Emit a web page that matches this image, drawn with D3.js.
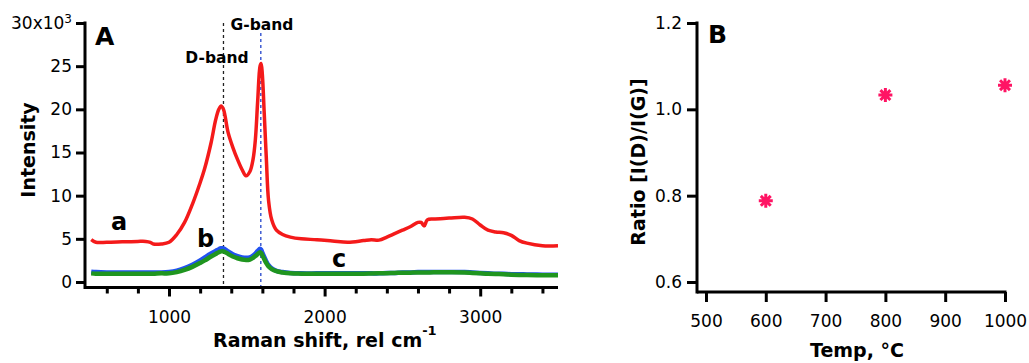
<!DOCTYPE html>
<html>
<head>
<meta charset="utf-8">
<script src="https://cdn.jsdelivr.net/npm/d3@7"></script>
<style>
  body { margin: 0; background: #fff; }
  svg { display: block; font-family: "DejaVu Sans", sans-serif; }
  .axis text { font-size: 17px; fill: #000; font-family: "DejaVu Sans", sans-serif; }
  .axis line { stroke: #000; stroke-width: 3; }
  .axis path { display: none; }
  .title { font-weight: bold; }
</style>
</head>
<body>
<svg id="chart" width="1029" height="363"></svg>
<script>
// Raman spectra (intensity in units of 10^3)
var ramanShift = [500, 530, 600, 700, 800, 850, 880, 900, 950, 1000,
  1050, 1100, 1150, 1200, 1230, 1270, 1300, 1320, 1335, 1350,
  1380, 1410, 1440, 1470, 1495, 1520, 1540, 1555, 1570, 1585,
  1592, 1600, 1612, 1625, 1640, 1660, 1690, 1730, 1780, 1850,
  1950, 2050, 2150, 2250, 2300, 2350, 2400, 2450, 2500, 2550,
  2600, 2620, 2640, 2660, 2700, 2800, 2900, 2950, 3000, 3050,
  3100, 3150, 3200, 3250, 3300, 3400, 3500];
var intensityA = [4.9, 4.6, 4.6, 4.65, 4.7, 4.7, 4.6, 4.4, 4.4, 4.6,
  5.5, 6.9, 9.0, 11.5, 13.2, 16.1, 18.8, 20.0, 20.4, 20.0,
  17.3, 15.6, 14.2, 13.0, 12.3, 12.8, 14.2, 16.5, 21.0, 25.0,
  25.3, 24.0, 19.5, 14.5, 9.4, 7.2, 6.0, 5.5, 5.2, 5.0,
  4.9, 4.75, 4.6, 4.8, 4.9, 4.85, 5.2, 5.6, 6.0, 6.4,
  6.9, 6.9, 6.5, 7.2, 7.3, 7.4, 7.5, 7.3, 6.6, 6.0,
  5.8, 5.7, 5.4, 4.8, 4.5, 4.2, 4.2];
var intensityB = [1.2, 1.15, 1.1, 1.1, 1.1, 1.1, 1.1, 1.1, 1.1, 1.15,
  1.3, 1.6, 2.0, 2.5, 2.85, 3.3, 3.6, 3.8, 3.9, 3.9,
  3.55, 3.2, 3.0, 2.85, 2.8, 2.85, 3.05, 3.3, 3.6, 3.85,
  3.75, 3.4, 2.9, 2.4, 1.95, 1.6, 1.3, 1.15, 1.05, 1.0,
  1.0, 1.0, 1.0, 1.0, 1.0, 1.0, 1.05, 1.05, 1.1, 1.1,
  1.15, 1.15, 1.15, 1.15, 1.15, 1.15, 1.15, 1.1, 1.05, 1.0,
  0.95, 0.95, 0.9, 0.9, 0.88, 0.85, 0.85];
var intensityC = [1.0, 0.95, 0.95, 0.95, 0.95, 0.95, 0.95, 0.95, 1.0, 1.0,
  1.15, 1.4, 1.75, 2.2, 2.5, 2.95, 3.25, 3.45, 3.55, 3.55,
  3.25, 2.95, 2.75, 2.6, 2.55, 2.6, 2.8, 3.0, 3.25, 3.45,
  3.35, 3.1, 2.65, 2.2, 1.8, 1.5, 1.25, 1.1, 1.0, 0.97,
  0.95, 0.95, 0.95, 0.97, 0.98, 1.0, 1.02, 1.05, 1.07, 1.08,
  1.1, 1.1, 1.1, 1.1, 1.12, 1.12, 1.1, 1.05, 1.0, 0.95,
  0.92, 0.9, 0.85, 0.82, 0.8, 0.78, 0.78];
var bandNames = ["D-band", "G-band"];
var bandPositions = [1350, 1590];
var intensityTicks = [0, 5, 10, 15, 20, 25, 30];
var shiftTicks = [1000, 2000, 3000];

// I(D)/I(G) ratio vs temperature
var temps = [600, 800, 1000];
var ratios = [0.788, 1.033, 1.056];
var tempTicks = [500, 600, 700, 800, 900, 1000];
var ratioTicks = [0.6, 0.8, 1.0, 1.2];

var svg = d3.select("#chart");

function label(x, y, size, txt) {
  return svg.append("text").attr("class", "title")
    .attr("x", x).attr("y", y).style("font-size", size + "px").text(txt);
}

// ---------- panel A ----------
var xA = d3.scaleLinear().domain([460, 3500]).range([85, 558]);
var yA = d3.scaleLinear().domain([0, 30]).range([282, 23]);
var axisYA = 287.5;

var ayA = svg.append("g")
  .attr("class", "axis")
  .attr("transform", "translate(85,0)")
  .call(d3.axisLeft(yA).tickValues(intensityTicks).tickSize(9).tickPadding(4)
    .tickFormat(function (d) { return d == 30 ? "30x10" : d; }));
ayA.selectAll(".tick text").filter(function (d) { return d == 30; })
  .append("tspan").attr("dy", "-0.5em").style("font-size", "12px").text("3");

var minorShift = d3.range(600, 3500, 200).filter(function (d) { return d % 1000 != 0; });
svg.append("g")
  .attr("class", "axis")
  .attr("transform", "translate(0," + axisYA + ")")
  .call(d3.axisBottom(xA).tickValues(minorShift).tickSize(6).tickFormat(""));
svg.append("g")
  .attr("class", "axis")
  .attr("transform", "translate(0," + axisYA + ")")
  .call(d3.axisBottom(xA).tickValues(shiftTicks).tickSize(9).tickPadding(14).tickFormat(d3.format("d")));

// axis lines
svg.append("line").attr("x1", 85).attr("x2", 85).attr("y1", yA(30) - 1.5).attr("y2", axisYA + 1.5)
  .attr("stroke", "#000").attr("stroke-width", 3);
svg.append("line").attr("x1", 85).attr("x2", 558).attr("y1", axisYA).attr("y2", axisYA)
  .attr("stroke", "#000").attr("stroke-width", 3);

// band markers
var bandColors = ["#222", "#2244cc"];
var bandTop = [23, 33];
bandPositions.forEach(function (b, i) {
  svg.append("line")
    .attr("x1", xA(b)).attr("x2", xA(b))
    .attr("y1", bandTop[i]).attr("y2", axisYA - 1.5)
    .attr("stroke", bandColors[i]).attr("stroke-width", 1.3)
    .attr("stroke-dasharray", "3,3");
});
label(217, 63, 15.5, bandNames[0]).attr("text-anchor", "middle");
label(262, 30, 15.5, bandNames[1]).attr("text-anchor", "middle");

var line = d3.line()
  .x(function (d, i) { return xA(ramanShift[i]); })
  .y(function (d) { return yA(d); })
  .curve(d3.curveCatmullRom.alpha(0.5));

svg.append("path").datum(intensityA).attr("d", line)
  .attr("fill", "none").attr("stroke", "#f41a1a").attr("stroke-width", 3.5);
svg.append("path").datum(intensityB).attr("d", line)
  .attr("fill", "none").attr("stroke", "#2152f0").attr("stroke-width", 4.5);
svg.append("path").datum(intensityC).attr("d", line)
  .attr("fill", "none").attr("stroke", "#1f951f").attr("stroke-width", 4.5);

label(111, 230, 24, "a");
label(197, 247, 24, "b");
label(332, 267, 24, "c");
label(95, 45, 25, "A");

label(0, 0, 19, "Intensity")
  .attr("transform", "translate(35,150)rotate(-90)")
  .attr("text-anchor", "middle");

var xt = label(213, 347, 19, null);
xt.append("tspan").text("Raman shift, rel cm");
xt.append("tspan").attr("dy", -12).style("font-size", "13px").text("-1");

// ---------- panel B ----------
var xB = d3.scaleLinear().domain([485, 1000]).range([697, 1005]);
var yB = d3.scaleLinear().domain([0.6, 1.2]).range([282, 23]);
var axisYB = 292;

svg.append("g")
  .attr("class", "axis")
  .attr("transform", "translate(697,0)")
  .call(d3.axisLeft(yB).tickValues(ratioTicks).tickSize(10).tickPadding(5).tickFormat(d3.format(".1f")));
svg.append("g")
  .attr("class", "axis")
  .attr("transform", "translate(0," + axisYB + ")")
  .call(d3.axisBottom(xB).tickValues(tempTicks).tickSize(10).tickPadding(13).tickFormat(d3.format("d")));

svg.append("line").attr("x1", 697).attr("x2", 697).attr("y1", yB(1.2) - 1.5).attr("y2", axisYB + 1.5)
  .attr("stroke", "#000").attr("stroke-width", 3);
svg.append("line").attr("x1", 697).attr("x2", 1006.5).attr("y1", axisYB).attr("y2", axisYB)
  .attr("stroke", "#000").attr("stroke-width", 3);

// eight-armed asterisk marker
var asterisk8 = {
  draw: function (context, size) {
    var r = Math.sqrt(size) / 2;
    var q = r * Math.SQRT1_2;
    context.moveTo(0, -r); context.lineTo(0, r);
    context.moveTo(-r, 0); context.lineTo(r, 0);
    context.moveTo(-q, -q); context.lineTo(q, q);
    context.moveTo(-q, q); context.lineTo(q, -q);
  }
};
svg.selectAll("path.pt")
  .data(temps)
  .enter().append("path")
  .attr("class", "pt")
  .attr("transform", function (d, i) { return "translate(" + xB(d) + "," + yB(ratios[i]) + ")"; })
  .attr("d", d3.symbol().type(asterisk8).size(196))
  .attr("fill", "none")
  .attr("stroke", "#ff1464")
  .attr("stroke-width", 3);

label(708, 43, 25, "B");

label(0, 0, 19, "Ratio [I(D)/I(G)]")
  .attr("transform", "translate(645,162)rotate(-90)")
  .attr("text-anchor", "middle");

label(857, 357, 19, "Temp, °C").attr("text-anchor", "middle");
</script>
</body>
</html>
